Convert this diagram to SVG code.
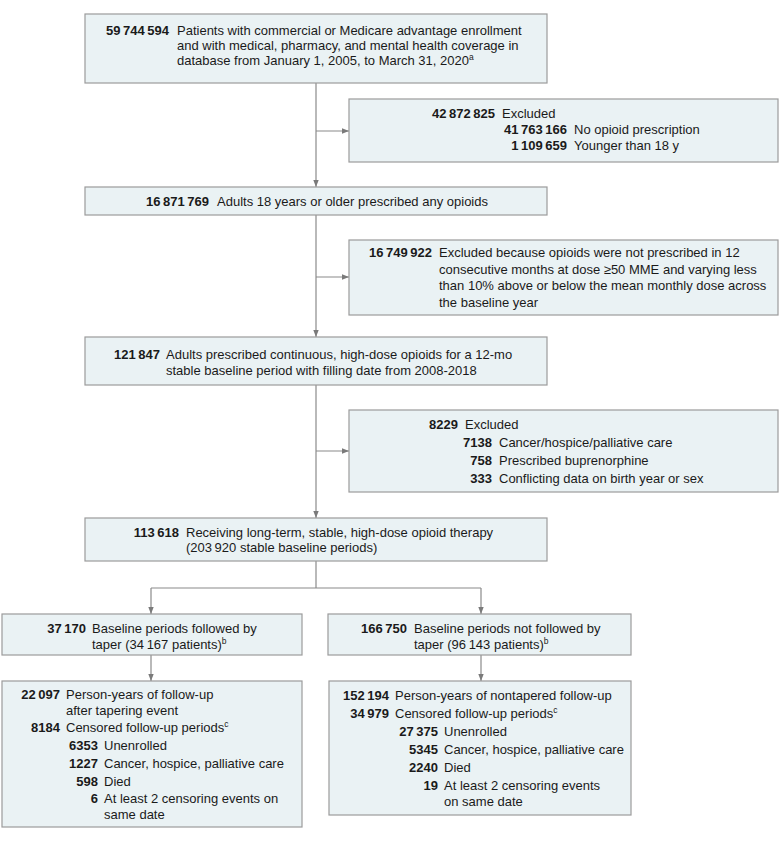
<svg xmlns="http://www.w3.org/2000/svg" width="783" height="841" viewBox="0 0 783 841">
<defs>
<style>
.box{fill:#eaf2f4;stroke:#9b9b9b;stroke-width:1.2}
text{font-family:"Liberation Sans",Arial,sans-serif;font-size:13px;fill:#1a1a1a}
.n{font-weight:bold;text-anchor:end}
.sup{font-size:8.5px}
.c{fill:none;stroke:#8a8a8a;stroke-width:1.2}
</style>
<marker id="ah" markerWidth="7" markerHeight="6" refX="7" refY="3" orient="auto" markerUnits="userSpaceOnUse">
<path d="M0,0.3 L7,3 L0,5.7 Z" fill="#7a7a7a"/>
</marker>
</defs>
<rect width="783" height="841" fill="#ffffff"/>

<g id="connectors">
<path class="c" d="M316,83 V187" marker-end="url(#ah)"/>
<path class="c" d="M316,131 H349" marker-end="url(#ah)"/>
<path class="c" d="M316,215 V337" marker-end="url(#ah)"/>
<path class="c" d="M316,277 H349" marker-end="url(#ah)"/>
<path class="c" d="M316,385 V518" marker-end="url(#ah)"/>
<path class="c" d="M316,451 H349" marker-end="url(#ah)"/>
<path class="c" d="M316,561 V588"/>
<path class="c" d="M151,588 H481"/>
<path class="c" d="M151,588 V614" marker-end="url(#ah)"/>
<path class="c" d="M481,588 V614" marker-end="url(#ah)"/>
<path class="c" d="M151,655 V681" marker-end="url(#ah)"/>
<path class="c" d="M481,655 V681" marker-end="url(#ah)"/>
</g>

<g id="n1">
<rect class="box" x="85" y="14" width="462" height="69"/>
<text class="n" x="169" y="35">59&#8201;744&#8201;594</text>
<text x="177" y="35">Patients with commercial or Medicare advantage enrollment</text>
<text x="177" y="50">and with medical, pharmacy, and mental health coverage in</text>
<text x="177" y="65">database from January 1, 2005, to March 31, 2020<tspan class="sup" dy="-5">a</tspan></text>
</g>

<g id="n2">
<rect class="box" x="349" y="99" width="429" height="63"/>
<text class="n" x="495" y="118">42&#8201;872&#8201;825</text>
<text x="502" y="118">Excluded</text>
<text class="n" x="567" y="134">41&#8201;763&#8201;166</text>
<text x="574" y="134">No opioid prescription</text>
<text class="n" x="567" y="150">1&#8201;109&#8201;659</text>
<text x="574" y="150">Younger than 18 y</text>
</g>

<g id="n3">
<rect class="box" x="85" y="187" width="462" height="28"/>
<text class="n" x="209" y="206">16&#8201;871&#8201;769</text>
<text x="217" y="206">Adults 18 years or older prescribed any opioids</text>
</g>

<g id="n4">
<rect class="box" x="349" y="240" width="429" height="75"/>
<text class="n" x="432" y="257">16&#8201;749&#8201;922</text>
<text x="439" y="257">Excluded because opioids were not prescribed in 12</text>
<text x="439" y="273.5">consecutive months at dose ≥50 MME and varying less</text>
<text x="439" y="290">than 10% above or below the mean monthly dose across</text>
<text x="439" y="306.5">the baseline year</text>
</g>

<g id="n5">
<rect class="box" x="85" y="337" width="462" height="48"/>
<text class="n" x="160" y="359">121&#8201;847</text>
<text x="166" y="359">Adults prescribed continuous, high-dose opioids for a 12-mo</text>
<text x="166" y="375">stable baseline period with filling date from 2008-2018</text>
</g>

<g id="n6">
<rect class="box" x="349" y="410" width="429" height="82"/>
<text class="n" x="458" y="429">8229</text>
<text x="465" y="429">Excluded</text>
<text class="n" x="492" y="447">7138</text>
<text x="499" y="447">Cancer/hospice/palliative care</text>
<text class="n" x="492" y="465">758</text>
<text x="499" y="465">Prescribed buprenorphine</text>
<text class="n" x="492" y="483">333</text>
<text x="499" y="483">Conflicting data on birth year or sex</text>
</g>

<g id="n7">
<rect class="box" x="85" y="518" width="462" height="43"/>
<text class="n" x="179" y="537">113&#8201;618</text>
<text x="186" y="537">Receiving long-term, stable, high-dose opioid therapy</text>
<text x="186" y="552">(203&#8201;920 stable baseline periods)</text>
</g>

<g id="n8">
<rect class="box" x="2" y="614" width="300" height="41"/>
<text class="n" x="86" y="633">37&#8201;170</text>
<text x="92" y="633">Baseline periods followed by</text>
<text x="92" y="649">taper (34&#8201;167 patients)<tspan class="sup" dy="-5">b</tspan></text>
</g>

<g id="n9">
<rect class="box" x="328" y="614" width="303" height="41"/>
<text class="n" x="407" y="633">166&#8201;750</text>
<text x="414" y="633">Baseline periods not followed by</text>
<text x="414" y="649">taper (96&#8201;143 patients)<tspan class="sup" dy="-5">b</tspan></text>
</g>

<g id="n10">
<rect class="box" x="2" y="681" width="300" height="146"/>
<text class="n" x="60" y="699">22&#8201;097</text>
<text x="66" y="699">Person-years of follow-up</text>
<text x="66" y="715">after tapering event</text>
<text class="n" x="60" y="732">8184</text>
<text x="66" y="732">Censored follow-up periods<tspan class="sup" dy="-5">c</tspan></text>
<text class="n" x="98" y="750">6353</text>
<text x="104" y="750">Unenrolled</text>
<text class="n" x="98" y="768">1227</text>
<text x="104" y="768">Cancer, hospice, palliative care</text>
<text class="n" x="98" y="786">598</text>
<text x="104" y="786">Died</text>
<text class="n" x="98" y="803">6</text>
<text x="104" y="803">At least 2 censoring events on</text>
<text x="104" y="819">same date</text>
</g>

<g id="n11">
<rect class="box" x="329" y="681" width="302" height="134"/>
<text class="n" x="389" y="700">152&#8201;194</text>
<text x="395" y="700">Person-years of nontapered follow-up</text>
<text class="n" x="389" y="718">34&#8201;979</text>
<text x="395" y="718">Censored follow-up periods<tspan class="sup" dy="-5">c</tspan></text>
<text class="n" x="438" y="736">27&#8201;375</text>
<text x="444" y="736">Unenrolled</text>
<text class="n" x="438" y="754">5345</text>
<text x="444" y="754">Cancer, hospice, palliative care</text>
<text class="n" x="438" y="772">2240</text>
<text x="444" y="772">Died</text>
<text class="n" x="438" y="790">19</text>
<text x="444" y="790">At least 2 censoring events</text>
<text x="444" y="806">on same date</text>
</g>
</svg>
